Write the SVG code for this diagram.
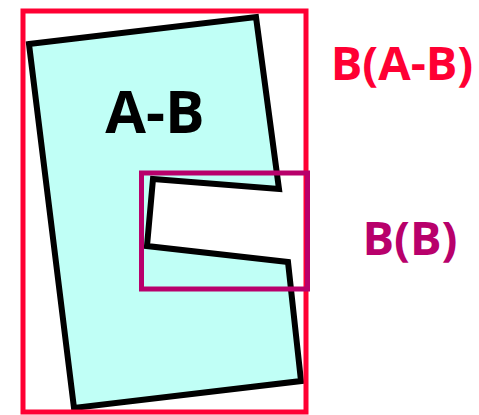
<svg xmlns="http://www.w3.org/2000/svg" width="479" height="415" viewBox="0 0 479 415">
<style>
.t{font-family:"Open Sans","Liberation Sans",sans-serif;font-weight:bold;font-size:47px}
</style>
<rect width="479" height="415" fill="#fff"/>
<g id="shapeAB">
<polygon points="29,44 256,17 279,189 153,179 147,246 288,262 301,381 74,408" fill="#C0FFF6" stroke="#000" stroke-width="6" stroke-linejoin="miter"/>
<text class="t" x="155" y="133" text-anchor="middle" fill="#000" style="font-size:59px">A-B</text>
</g>
<g id="boxAB">
<rect x="23" y="11" width="283" height="401" fill="none" stroke="#FF0033" stroke-width="5"/>
<text class="t" x="402" y="80" text-anchor="middle" fill="#FF0033">B(A-B)</text>
</g>
<g id="boxB">
<rect x="141.5" y="173" width="166" height="116" fill="none" stroke="#B8006B" stroke-width="5"/>
<text class="t" x="410" y="255" text-anchor="middle" fill="#B8006B">B(B)</text>
</g>
<g id="connectors"/>
</svg>
